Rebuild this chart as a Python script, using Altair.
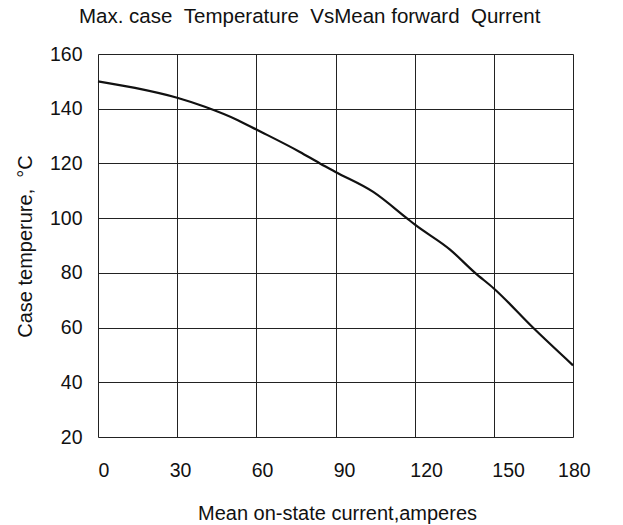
import altair as alt
import pandas as pd

# Curve (current in A, case temperature in °C)
current = [0, 14, 30, 40.5, 53, 60, 76.5, 84.1, 90, 104.3, 117, 120, 133.4, 142.9, 150, 164.8, 180]
temperature = [150, 147.6, 144, 140.7, 135.8, 132.4, 124.2, 120, 116.9, 109.6, 100, 97.7, 88.5, 80, 74.3, 60, 46.2]

x_ticks = [0, 30, 60, 90, 120, 150, 180]
y_ticks = [20, 40, 60, 80, 100, 120, 140, 160]

NB = "\u00a0"
title_text = f"Max. case{NB}{NB}Temperature{NB}{NB}VsMean forward{NB}{NB}Qurrent"
x_title = "Mean on-state current,amperes"
y_title = f"Case{NB}temperure,{NB}{NB}°C"

df = pd.DataFrame({"current": current, "temperature": temperature})

FONT = "Liberation Sans"
INK = "#111111"

line = alt.Chart(df).mark_line(color=INK, strokeWidth=2.2, interpolate="monotone").encode(
    x=alt.X(
        "current:Q",
        scale=alt.Scale(domain=[0, 180], nice=False, zero=False),
        axis=alt.Axis(
            values=x_ticks,
            title=x_title,
            grid=True,
            gridColor="#222222",
            gridWidth=1,
            domain=False,
            ticks=False,
            labelFont=FONT,
            labelFontSize=19.5,
            labelColor=INK,
            labelPadding=24,
            labelOffset=alt.ExprRef("datum.value * 0.095"),
            titleFont=FONT,
            titleFontSize=20,
            titleFontWeight="normal",
            titleColor=INK,
            titleX=239,
            titleY=82,
            titleBaseline="alphabetic",
            titleAnchor="middle",
        ),
    ),
    y=alt.Y(
        "temperature:Q",
        scale=alt.Scale(domain=[20, 160], nice=False, zero=False),
        axis=alt.Axis(
            values=y_ticks,
            title=y_title,
            grid=True,
            gridColor="#222222",
            gridWidth=1,
            domain=False,
            ticks=False,
            labelFont=FONT,
            labelFontSize=19.5,
            labelColor=INK,
            labelPadding=16,
            titleFont=FONT,
            titleFontSize=20,
            titleFontWeight="normal",
            titleColor=INK,
            titleX=-73,
            titleY=192,
            titleAngle=-90,
            titleBaseline="middle",
            titleAnchor="middle",
        ),
    ),
)

chart = line.properties(
    width=475,
    height=383,
    title=alt.TitleParams(
        text=title_text,
        font=FONT,
        fontSize=20.5,
        fontWeight="normal",
        color=INK,
        anchor="start",
        frame="group",
        dx=-19,
        baseline="alphabetic",
        offset=1,
    ),
    padding={"left": 90, "top": 46, "right": 42, "bottom": 88},
    autosize=alt.AutoSizeParams(type="none"),
).configure_view(
    stroke="#555555",
    strokeWidth=1.5,
).configure(background="white")

chart.save("out.html", embed_options={"renderer": "svg", "actions": False})
